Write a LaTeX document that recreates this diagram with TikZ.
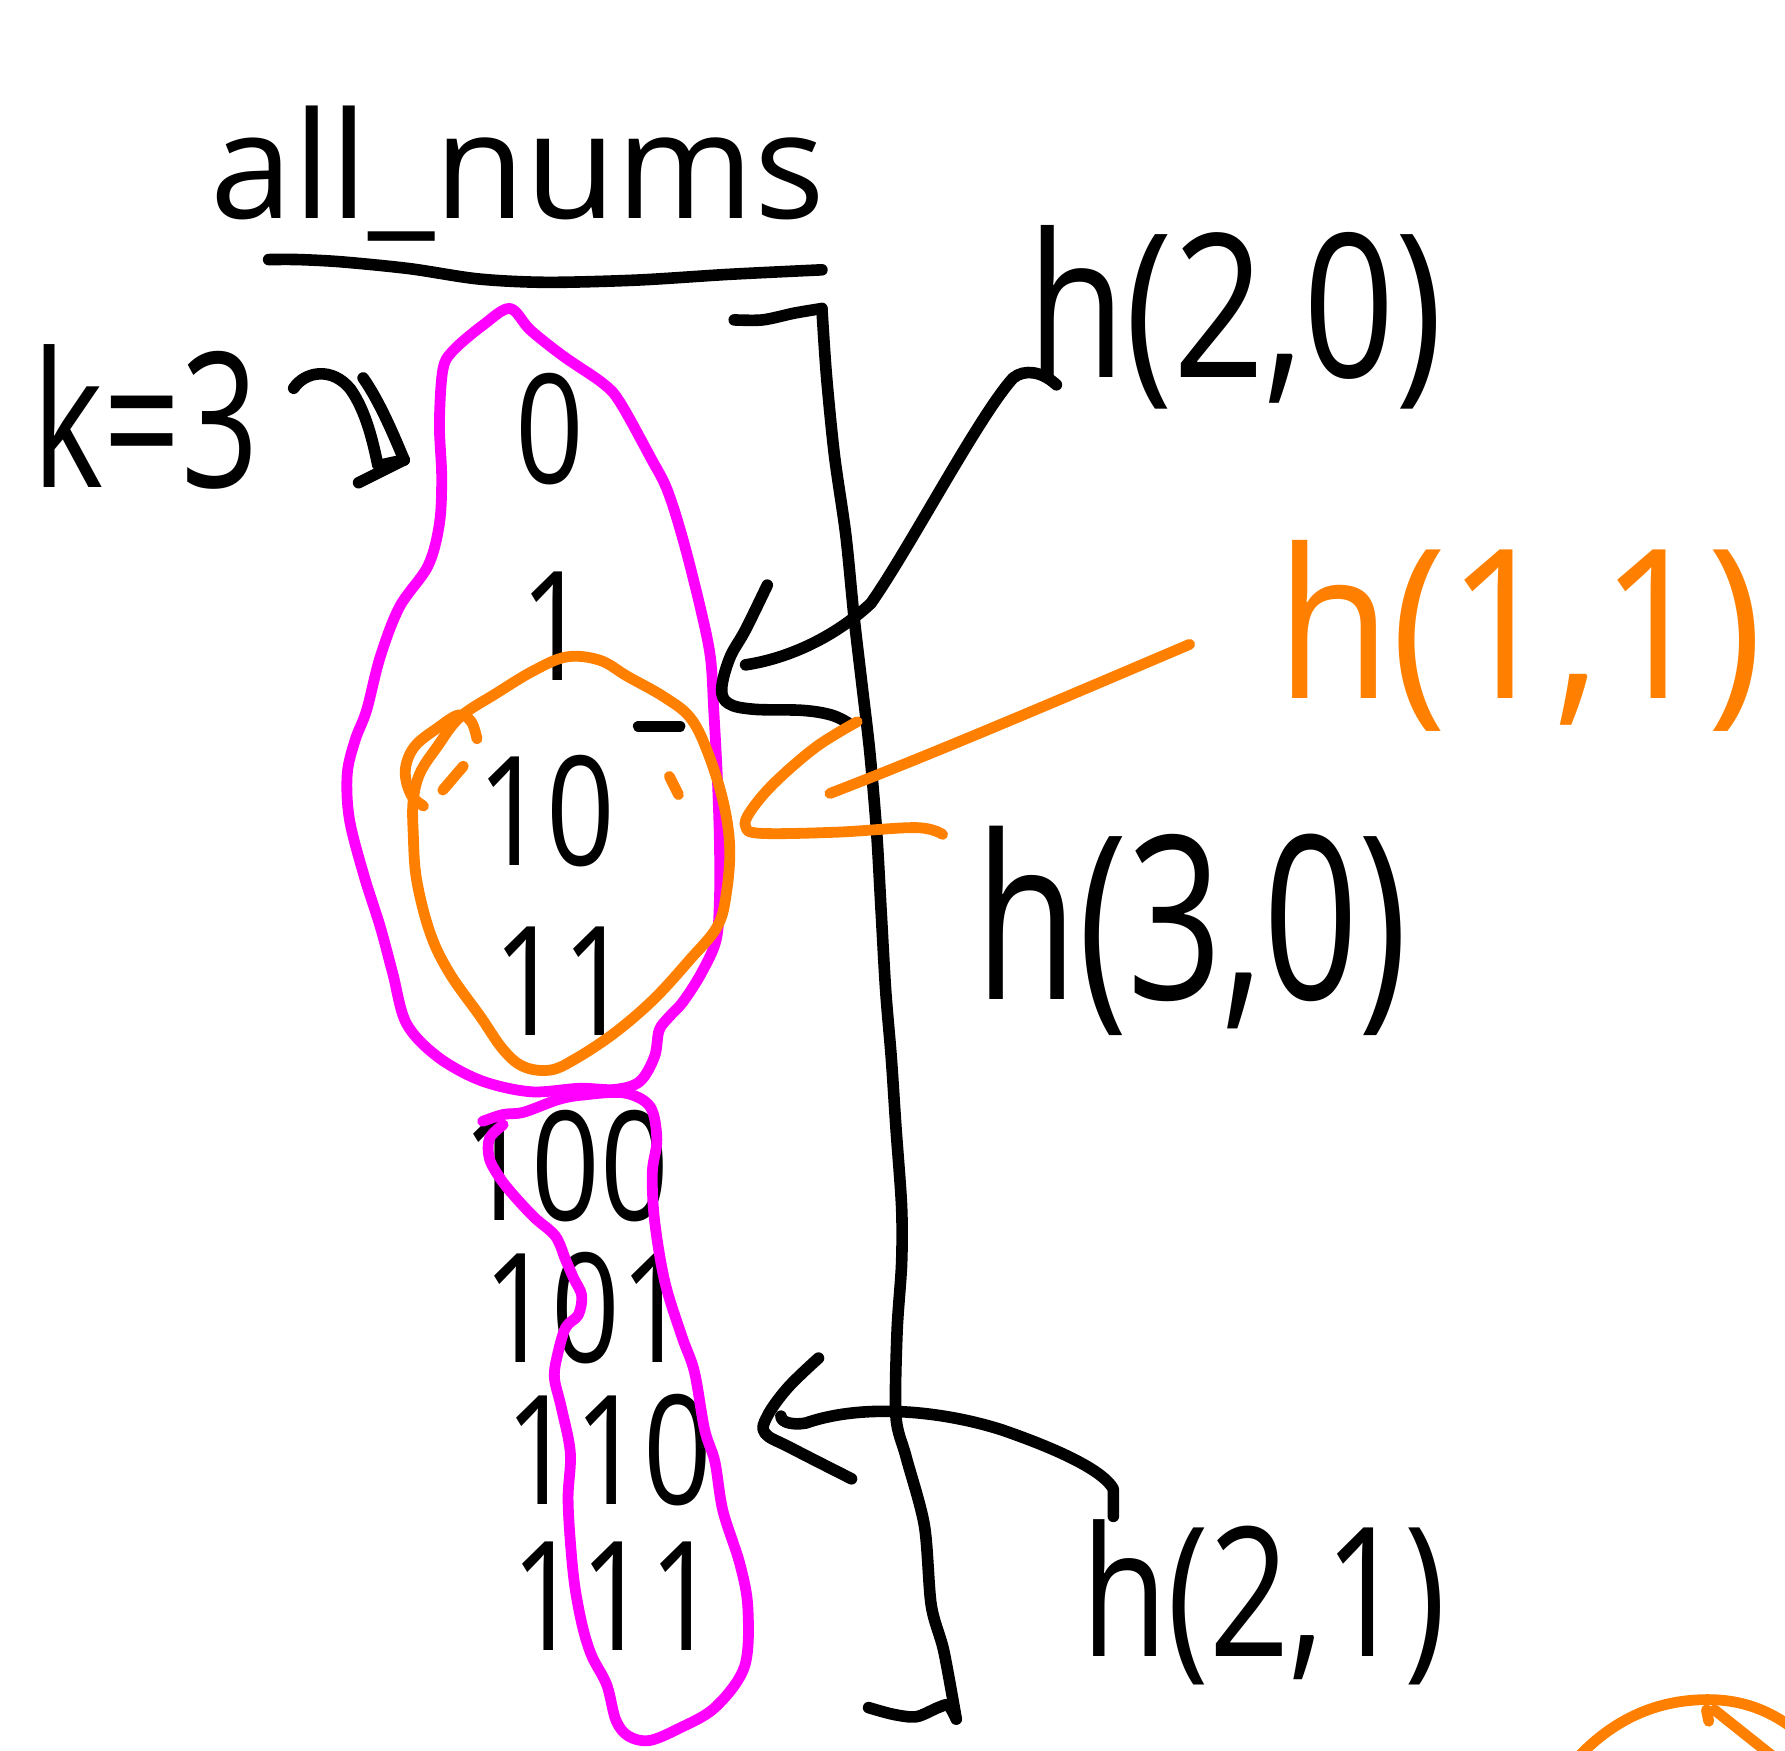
\documentclass[tikz,border=0pt]{standalone}
\usepackage{fontspec}
\newfontfamily\handfont{Open Sans}
\definecolor{magentaink}{RGB}{255,0,255}
\definecolor{orangeink}{RGB}{255,128,0}
\tikzset{
  ink/.style={line width=2.9pt, line cap=round, line join=round},
  pen/.style={ink, draw=black},
  mag/.style={ink, line width=2.7pt, draw=magentaink},
  org/.style={ink, line width=2.7pt, draw=orangeink},
  hand/.style={inner sep=0pt, anchor=base},
  digits/.style={hand, font=\fontsize{38}{38}\handfont, xscale=0.79, text height=27pt, text depth=0pt},
}
\begin{document}
\begin{tikzpicture}[x=0.01cm, y=-0.01cm]
\useasboundingbox (0,0) rectangle (1568,1538);
\clip (0,0) rectangle (1568,1538);

% heading and its underline
\node[hand, font=\fontsize{37}{37}\handfont] (title) at (455,192) {all\_nums};
\draw[pen] plot[smooth] coordinates {(236,228) (262,228) (300,230) (360,236) (420,245) (480,248) (560,246) (640,241) (722,237)};

% k = 3 and its double arrow
\node[hand, font=\fontsize{47}{47}\handfont, xscale=0.72] (k) at (128,428) {k=3};
\coordinate (kfrom) at (258,341);
\coordinate (kto) at (355,404);
\draw[pen] (kfrom) .. controls (268,326) and (292,322) .. (308,342) .. controls (322,362) and (328,390) .. (332,409) -- (kto);
\draw[pen] (319,332) .. controls (333,352) and (345,380) .. (kto);
\draw[pen] (315,424) -- (kto);

% the list of numbers
\node[digits] (n0) at (483,425) {0};
\node[digits] (n1) at (487,598) {1};
\node[digits] (n10) at (480,760) {10};
\node[digits] (n11) at (494,910) {11};
\node[digits] (n100) at (497,1072) {100};
\node[digits] (n101) at (515,1197) {101};
\node[digits] (n110) at (535,1322) {110};
\node[digits] (n111) at (540,1450) {111};

% bracket spanning the whole list
\draw[pen] plot[smooth] coordinates {(645,281) (670,281) (698,275) (722,271)};
\draw[pen] plot[smooth, tension=0.5] coordinates {(722,271) (726,330) (733,400) (743,470) (750,540) (757,600) (764,660) (770,730) (774,800) (778,870) (783,930) (787,990) (792,1060) (792,1110) (788,1170) (787,1244) (796,1280) (812,1340) (818,1410) (829,1450) (840,1510)};
\draw[pen] plot[smooth] coordinates {(763,1500) (785,1506) (805,1508) (824,1500) (833,1498) (840,1510)};

% magenta groups
\draw[mag] plot[smooth cycle, tension=0.55] coordinates {(448,271) (466,290) (495,313) (530,337) (545,354) (571,401) (586,430) (600,474) (615,533) (624,577) (627,624) (630,680) (632,740) (632,790) (629,826) (616,855) (600,880) (588,893) (579,905) (575,928) (562,950) (540,957) (509,956) (466,959) (422,949) (384,928) (357,899) (345,855) (334,814) (320,770) (307,720) (305,680) (312,650) (322,624) (334,577) (351,533) (376,497) (386,460) (388,419) (386,372) (389,325) (398,308) (425,285)};
\draw[mag] plot[smooth, tension=0.55] coordinates {(424,985) (442,979) (460,977) (490,966) (511,962) (548,960) (571,972) (577,1001) (573,1030) (575,1072) (584,1126) (599,1174) (610,1205) (619,1256) (628,1284) (635,1327) (650,1374) (657,1413) (654,1464) (628,1500) (595,1519) (570,1529) (552,1525) (541,1511) (533,1480) (520,1455) (512,1430) (505,1394) (501,1354) (499,1315) (501,1276) (493,1236) (487,1210) (490,1189) (497,1166) (508,1155) (511,1138) (504,1123) (497,1107) (488,1086) (470,1070) (453,1052) (440,1036) (430,1018) (430,1000) (442,988)};

% orange group round 10 and 11
\draw[org] plot[smooth, tension=0.6] coordinates {(419,649) (414,634) (403,628) (385,639) (364,656) (356,677) (361,698) (372,708)};
\draw[org] plot[smooth cycle, tension=0.6] coordinates {(363,703) (369,679) (384,656) (404,630) (436,609) (469,589) (498,577) (527,580) (551,594) (583,612) (606,630) (621,659) (635,703) (641,744) (638,785) (630,814) (606,843) (574,878) (539,908) (504,931) (483,940) (460,937) (442,922) (422,893) (395,855) (378,820) (366,773) (363,732)};
\draw[org] (389,694) -- (407,673);
\draw[org] (588,682) -- (596,698);
\draw[pen] (561,638) -- (597,638);

% labels
\node[hand, font=\fontsize{50}{50}\handfont, xscale=0.8] (h20) at (1085,332) {h(2,0)};
\node[hand, font=\fontsize{52}{52}\handfont, xscale=0.9, text=orangeink] (h11) at (1335,614) {h(1,1)};
\node[hand, font=\fontsize{57}{57}\handfont, xscale=0.73] (h30) at (1047,878) {h(3,0)};
\node[hand, font=\fontsize{45}{45}\handfont, xscale=0.78] (h21) at (1110,1455) {h(2,1)};

% arrow from h(2,0)
\coordinate (h20a) at (928,338);
\coordinate (h20tip) at (655,584);
\draw[pen] (h20a) .. controls (915,326) and (900,324) .. (890,332) .. controls (860,365) and (800,480) .. (765,530) .. controls (735,558) and (695,578) .. (h20tip);
\draw[pen] plot[smooth, tension=0.6] coordinates {(674,514) (655,553) (641,578) (634,605) (640,618) (662,623) (705,624) (730,628) (745,635)};

% arrow from h(1,1)
\coordinate (h11a) at (1045,566);
\coordinate (h11tip) at (729,697);
\draw[org] (h11a) .. controls (930,615) and (820,662) .. (h11tip);
\draw[org] plot[smooth, tension=0.6] coordinates {(753,634) (717,656) (680,688) (659,713) (655,726) (668,732) (735,731) (805,727) (828,733)};

% arrow from h(2,1)
\coordinate (h21a) at (978,1332);
\coordinate (h21tip) at (686,1244);
\draw[pen] (h21a) -- (978,1308) .. controls (970,1293) and (935,1275) .. (880,1256) .. controls (830,1240) and (760,1232) .. (708,1250) .. controls (698,1252) and (686,1250) .. (h21tip);
\draw[pen] plot[smooth, tension=0.6] coordinates {(719,1193) (692,1219) (674,1244) (672,1259) (695,1272) (748,1299)};

% partial circle in the corner
\draw[org] (1385,1545) .. controls (1420,1507) and (1460,1493) .. (1500,1493) .. controls (1530,1493) and (1555,1502) .. (1580,1522);
\draw[org] (1499,1502) -- (1501,1512);
\draw[org] (1506,1502) -- (1560,1545);
\end{tikzpicture}
\end{document}
